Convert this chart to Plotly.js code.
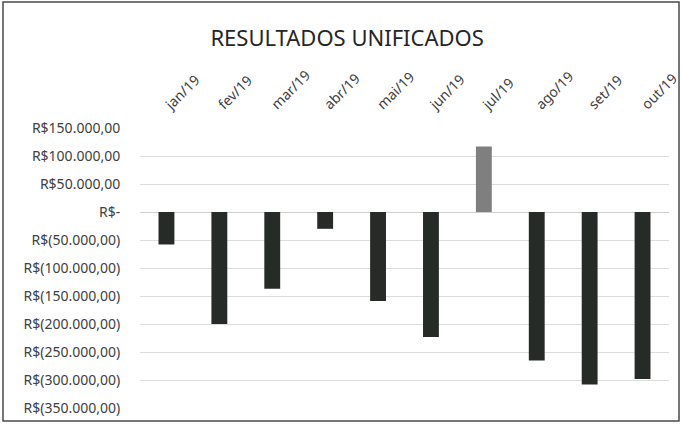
<!DOCTYPE html>
<html>
<head>
<meta charset="utf-8">
<script src="https://cdn.plot.ly/plotly-3.0.1.min.js"></script>
<style>html,body{margin:0;padding:0;background:#fff}#chart{width:682px;height:424px}</style>
</head>
<body>
<div id="chart"></div>
<script>
const months = ["jan/19","fev/19","mar/19","abr/19","mai/19","jun/19","jul/19","ago/19","set/19","out/19"];
const results = [-58000,-200000,-137000,-30000,-159000,-223000,117000,-265000,-308000,-298000];
const yTickVals = [150000,100000,50000,0,-50000,-100000,-150000,-200000,-250000,-300000,-350000];
const yTickText = ["R$150.000,00","R$100.000,00","R$50.000,00","R$-","R$(50.000,00)","R$(100.000,00)","R$(150.000,00)","R$(200.000,00)","R$(250.000,00)","R$(300.000,00)","R$(350.000,00)"];

const colors = results.map(v => v >= 0 ? "#7f7f7f" : "#262b28");

const trace = {
  type: "bar",
  x: months,
  y: results,
  marker: {color: colors},
  hoverinfo: "skip"
};

const font = "Noto Sans, Open Sans, sans-serif";
const layout = {
  width: 682, height: 424,
  margin: {l: 140, r: 13, t: 128, b: 16},
  paper_bgcolor: "#ffffff", plot_bgcolor: "#ffffff",
  bargap: 0.7,
  showlegend: false,
  title: {text: "RESULTADOS UNIFICADOS", x: 0.509, xref: "container", xanchor: "center",
          y: 0.91, yref: "container", yanchor: "middle",
          font: {family: font, size: 22, color: "#262626"}},
  xaxis: {
    side: "top", type: "category", tickangle: -45,
    showgrid: false, zeroline: false, showline: false,
    ticks: "outside", ticklen: 9, tickcolor: "rgba(0,0,0,0)",
    tickfont: {family: font, size: 14, color: "#404040"}
  },
  yaxis: {
    range: [-350000, 150000], tickmode: "array", tickvals: yTickVals, ticktext: yTickText,
    showgrid: true, gridcolor: "#dcdcdc", gridwidth: 1,
    zeroline: true, zerolinecolor: "#cfcfcf", zerolinewidth: 1,
    showline: false, ticks: "outside", ticklen: 16, tickcolor: "rgba(0,0,0,0)",
    tickfont: {family: font, size: 14, color: "#404040"}
  },
  shapes: [{
    type: "rect", xref: "paper", yref: "paper",
    x0: (3-140)/529, x1: (679-140)/529, y0: (408-421)/280, y1: (408-2)/280,
    line: {color: "#4a4a4a", width: 1.5}, fillcolor: "rgba(0,0,0,0)", layer: "below"
  }]
};

Plotly.newPlot("chart", [trace], layout, {displayModeBar: false, staticPlot: true});
</script>
</body>
</html>
